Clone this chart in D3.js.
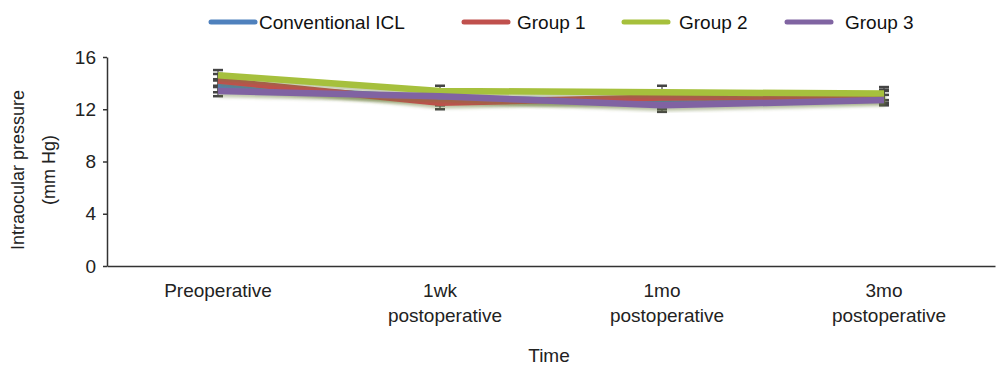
<!DOCTYPE html>
<html><head><meta charset="utf-8">
<script src="https://cdn.jsdelivr.net/npm/d3@7"></script>
<style>body{margin:0;background:#fff}svg{display:block;font-family:"Liberation Sans",Arial,sans-serif}</style>
</head><body>
<svg id="c" width="1004" height="370"></svg>
<script>
const categories = ["Preoperative", "1wk postoperative", "1mo postoperative", "3mo postoperative"];
const seriesNames = ["Conventional ICL", "Group 1", "Group 2", "Group 3"];
const conventionalICL = [13.8, 12.8, 12.6, 12.9];
const group1 = [14.2, 12.5, 12.9, 13.0];
const group2 = [14.6, 13.4, 13.3, 13.2];
const group3 = [13.4, 13.0, 12.3, 12.7];
const errConventional = [0.5, 0.5, 0.6, 0.5];
const errGroup1 = [0.5, 0.5, 0.5, 0.5];
const errGroup2 = [0.4, 0.4, 0.5, 0.5];
const errGroup3 = [0.4, 0.5, 0.5, 0.4];
const yTicks = [0, 4, 8, 12, 16];
const colors = ["#4f81bd", "#c0504d", "#a6c03c", "#8064a2"];

const series = [
  {name: seriesNames[0], values: conventionalICL, err: errConventional, color: colors[0]},
  {name: seriesNames[1], values: group1, err: errGroup1, color: colors[1]},
  {name: seriesNames[2], values: group2, err: errGroup2, color: colors[2]},
  {name: seriesNames[3], values: group3, err: errGroup3, color: colors[3]}
];

const svg = d3.select("#c");
const x = d3.scalePoint().domain(categories).range([107, 995]).padding(0.5);
const y = d3.scaleLinear().domain([0, 16]).range([266, 57]);

const defs = svg.append("defs");
const f = defs.append("filter").attr("id","sh").attr("x","-5%").attr("y","-50%").attr("width","110%").attr("height","200%");
f.append("feDropShadow").attr("dx",1).attr("dy",3).attr("stdDeviation",1.5).attr("flood-color","#6f8040").attr("flood-opacity",0.4);

// error bars
const eg = svg.append("g");
series.forEach(s => {
  categories.forEach((c, i) => {
    const cx = x(c), hi = y(s.values[i] + s.err[i]), lo = y(s.values[i] - s.err[i]);
    eg.append("line").attr("x1",cx).attr("x2",cx).attr("y1",hi).attr("y2",lo).attr("stroke","#444").attr("stroke-width",1.2);
    [hi, lo].forEach(yy => eg.append("line").attr("x1",cx-5).attr("x2",cx+5).attr("y1",yy).attr("y2",yy).attr("stroke","#444").attr("stroke-width",2.5));
  });
});

const line = d3.line().x((d,i) => x(categories[i])).y(d => y(d));
[0, 1, 2, 3].forEach(k => {
  const s = series[k];
  svg.append("path").datum(s.values).attr("d", line).attr("fill","none")
    .attr("stroke", s.color).attr("stroke-width",6.5).attr("filter","url(#sh)");
});

// axes
const yAxis = svg.append("g").attr("transform","translate(107,0)")
  .call(d3.axisLeft(y).tickValues(yTicks).tickSize(4).tickPadding(7).tickSizeOuter(0));
yAxis.selectAll("text").attr("font-size",19).attr("fill","#222").attr("font-family","Liberation Sans, Arial, sans-serif");
yAxis.selectAll("line,path").attr("stroke","#333").attr("stroke-width",1.5);

const xAxis = svg.append("g").attr("transform","translate(0,266)")
  .call(d3.axisBottom(x).tickSize(0).tickFormat(""));
xAxis.select("path").attr("stroke","#333").attr("stroke-width",1.5);

const xl = svg.append("g");
categories.forEach(c => {
  const parts = c.split(" ");
  const t = xl.append("text").attr("x", x(c)).attr("y", 297).attr("text-anchor","middle")
    .attr("font-size",19).attr("fill","#222");
  parts.forEach((p, j) => t.append("tspan").attr("x", x(c) + (j === 0 ? 0 : 5)).attr("dy", j === 0 ? 0 : 25).text(p));
});

svg.append("text").attr("x",549).attr("y",362).attr("text-anchor","middle").attr("font-size",19).attr("fill","#222").text("Time");

const yt = svg.append("text").attr("transform","translate(24,170) rotate(-90)").attr("text-anchor","middle").attr("font-size",18).attr("fill","#222");
yt.append("tspan").attr("x",0).attr("dy",0).text("Intraocular pressure");
yt.append("tspan").attr("x",0).attr("dy",31).text("(mm Hg)");

// legend
const legX = [211, 464, 624, 787];
const legTextX = [259, 517, 679, 845];
const lg = svg.append("g");
series.forEach((s, i) => {
  lg.append("line").attr("x1",legX[i]).attr("x2",legX[i]+44).attr("y1",22).attr("y2",22)
    .attr("stroke",s.color).attr("stroke-width",5).attr("stroke-linecap","round");
  lg.append("text").attr("x",legTextX[i]).attr("y",29).attr("font-size",19).attr("fill","#111").text(s.name);
});
</script>
</body></html>
